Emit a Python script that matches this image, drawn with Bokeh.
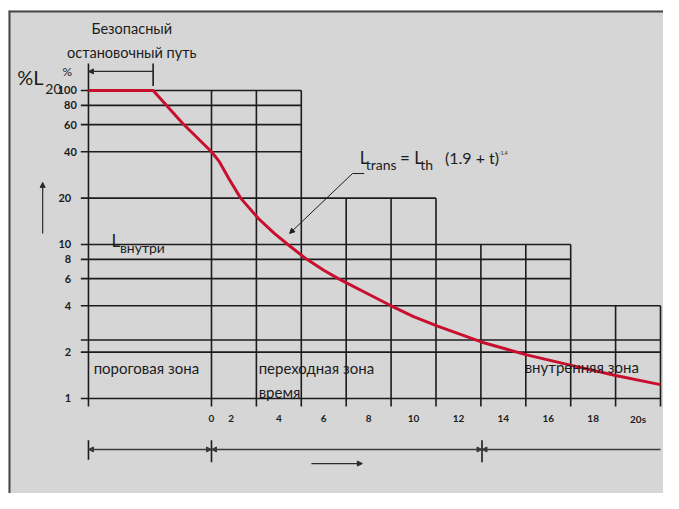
import numpy as np
from bokeh.plotting import figure
from bokeh.models import Range1d, Span, Arrow, NormalHead
from bokeh.core.properties import value
from bokeh.embed import file_html
from bokeh.resources import INLINE

# ---------------- data ----------------
y_tick_values = [100, 80, 60, 40, 20, 10, 8, 6, 4, 2, 1]
y_extra_lines = [2.4]
time_lines = [0, 2, 4, 6, 8, 10, 12, 14, 16, 18, 20]
x_tick_labels = ["0", "2", "4", "6", "8", "10", "12", "14", "16", "18", "20s"]
block_ends = [4, 10, 16, 20]
block_levels = [100, 20, 10, 4]
threshold_start = -5.48     # start of threshold zone (s-equivalent)
stop_end = -2.6             # end of safe stopping distance
interior_start = 12.05      # start of interior zone (s)
curve_t = [-5.48, -2.6, -1.28, 0, 0.35, 0.79, 1.3, 2.1, 2.8, 3.4, 4.2,
           5.0, 5.65, 6.1, 7.0, 8.0, 9.0, 10.07, 12.05, 14.04, 16.03, 18.0, 20.0]
curve_L = [100, 100, 61, 40, 34.5, 26.5, 20, 14.7, 11.8, 10, 8.1,
           6.8, 6.0, 5.55, 4.75, 4.0, 3.4, 2.95, 2.32, 1.92, 1.64, 1.41, 1.23]

# ---------------- figure ----------------
FONT = value("Lato")
INK = "#1c1c1c"
X0, X1 = -9.042, 20.134
Y0, Y1 = 0.2416, 330.7

p = figure(width=663, height=493, x_range=Range1d(X0, X1),
           y_range=Range1d(Y0, Y1), y_axis_type="log",
           output_backend="svg", toolbar_location=None,
           x_axis_location=None, y_axis_location=None,
           min_border_left=8, min_border_right=0, min_border_bottom=0, min_border_top=10,
           background_fill_color="#d6d6d6", border_fill_color="white",
           outline_line_color=None)
p.grid.visible = False

# frame border (top and left)
p.add_layout(Span(location=Y1, dimension="width", line_color="#474747", line_width=4))
p.add_layout(Span(location=X0, dimension="height", line_color="#474747", line_width=4))

def txt(x, y, s, size, align="left", baseline="middle", style="normal", color=INK):
    p.text(x=[x], y=[y], text=[s], text_font=FONT, text_font_size=value(f"{size}px"),
           text_align=align, text_baseline=baseline, text_font_style=style,
           text_color=color)

# ---------------- grid ----------------
line_bottom = 0.887
hline_start = -5.82

def right_extent(v):
    ext = block_ends[0]
    for e, lvl in zip(block_ends, block_levels):
        if lvl >= v:
            ext = e
    return ext

def top_level(t):
    for e, lvl in zip(block_ends, block_levels):
        if t <= e:
            return lvl
    return block_levels[-1]

hv = y_tick_values + y_extra_lines
p.segment(x0=[hline_start] * len(hv), y0=hv, x1=[right_extent(v) for v in hv], y1=hv,
          line_color=INK, line_width=1.6)
p.segment(x0=time_lines, y0=[line_bottom] * len(time_lines), x1=time_lines,
          y1=[top_level(t) for t in time_lines], line_color=INK, line_width=1.6)
# threshold zone left edge and safe stopping distance marker
p.segment(x0=[threshold_start, stop_end], y0=[line_bottom, 107],
          x1=[threshold_start, stop_end], y1=[150, 150], line_color=INK, line_width=1.6)

# ---------------- curve ----------------
p.line(curve_t, curve_L, line_color="#c8102e", line_width=3, line_join="round")

# ---------------- y tick labels ----------------
for v in y_tick_values:
    xr = -6.0 if v >= 40 else -6.25
    txt(xr, v, str(v), 11, align="right", style="bold")

# ---------------- x tick labels ----------------
x_label_pos = [time_lines[0]] + [t - 1 for t in time_lines[1:]]
x_label_pos[1] = 0.88
for xpos, lab in zip(x_label_pos, x_tick_labels):
    txt(xpos, 0.741, lab, 10, align="center", style="bold")

# ---------------- texts ----------------
txt(-3.55, 252.7, "Безопасный", 14.5, align="center")
txt(-3.55, 176.5, "остановочный путь", 14.5, align="center")
txt(-8.65, 123, "%L", 20)
txt(-7.4, 103, "20", 14)
txt(-6.42, 132, "%", 12, align="center")

txt(-4.45, 10.6, "L", 17)
txt(-4.08, 9.6, "внутри", 14)

txt(-5.25, 1.566, "пороговая зона", 15)
txt(2.1, 1.566, "переходная зона", 15)
txt(2.1, 1.11, "время", 15)
txt(13.95, 1.59, "внутренняя зона", 15)

# formula
txt(6.6, 36.5, "L", 17)
txt(6.87, 33.0, "trans", 14)
txt(8.4, 36.5, "= L", 17)
txt(9.3, 33.0, "th", 14)
txt(10.4, 36.5, "(1.9 + t)", 16)
txt(12.8, 39.0, "-1.4", 5)

# ---------------- arrows ----------------
def arrow(x0, y0, x1, y1, start=False, end=True, width=1.3, color="#2a2a2a", size=5):
    kw = {}
    kw["end"] = NormalHead(size=size, fill_color=color, line_color=color, line_width=1) if end else None
    kw["start"] = NormalHead(size=size, fill_color=color, line_color=color, line_width=1) if start else None
    p.add_layout(Arrow(x_start=x0, y_start=y0, x_end=x1, y_end=y1,
                       line_color=color, line_width=width, **kw))

# safe stopping distance dimension
arrow(stop_end, 133, threshold_start, 133)
# up arrow on y axis
arrow(-7.52, 11.8, -7.52, 25.3, width=1.2)
# pointer to curve
p.line([6.8, 6.28], [28.9, 28.9], line_color=INK, line_width=1)
arrow(6.28, 28.9, 3.48, 11.8, width=1, color=INK)
# bottom zone dimensions
dim_y = 0.4666
arrow(threshold_start, dim_y, 0, dim_y, start=True, end=True, width=1.6, color="#3a3a3a")
arrow(0, dim_y, interior_start, dim_y, start=True, end=True, width=1.6, color="#3a3a3a")
arrow(20, dim_y, interior_start, dim_y, start=False, end=True, width=1.6, color="#3a3a3a")
p.segment(x0=[threshold_start, 0, interior_start], y0=[0.535] * 3,
          x1=[threshold_start, 0, interior_start], y1=[0.40, 0.385, 0.385],
          line_color=INK, line_width=1.6)
# time arrow
arrow(4.45, 0.378, 6.72, 0.378, width=1.3, color="#2a2a2a")

open("out.html", "w").write(file_html(p, INLINE))
